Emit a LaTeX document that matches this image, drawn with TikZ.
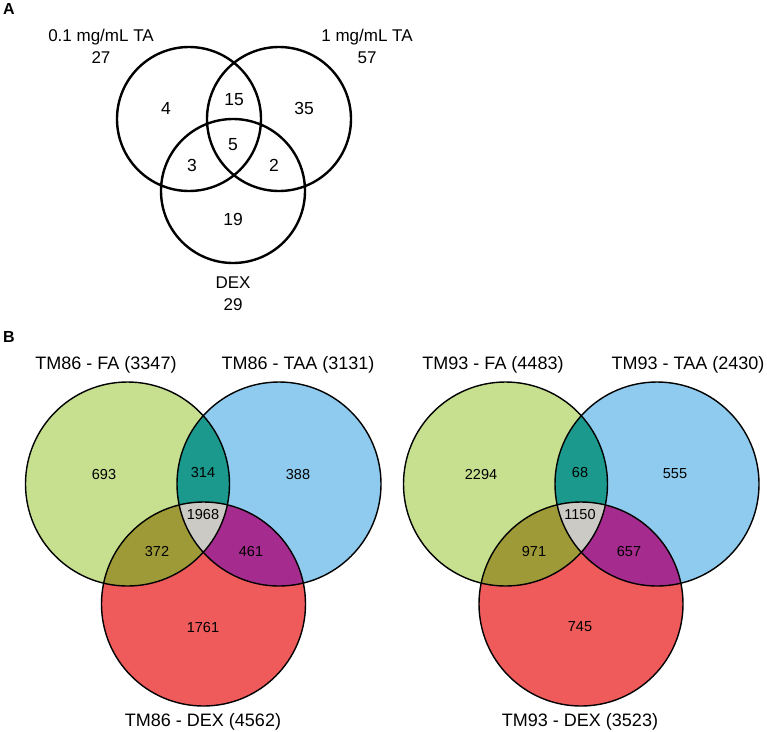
\documentclass[tikz,border=0pt]{standalone}
\usepackage{fontspec}
\setmainfont{Liberation Sans}
\usetikzlibrary{positioning}
\definecolor{vennfa}{HTML}{C6E08F}
\definecolor{venntaa}{HTML}{8FCBEE}
\definecolor{venndex}{HTML}{EF5B5B}
\definecolor{vennfataa}{HTML}{1B998C}
\definecolor{vennfadex}{HTML}{9E9A38}
\definecolor{venntaadex}{HTML}{A62B8E}
\definecolor{vennall}{HTML}{CCCAC5}

\begin{document}
\begin{tikzpicture}[
  x=1pt, y=-1pt,
  panel/.style={font=\fontsize{16}{18}\selectfont\bfseries},
  setlabel/.style={align=center, font=\fontsize{17}{22}\selectfont},
  biglabel/.style={font=\fontsize{18}{20}\selectfont},
  count/.style={font=\fontsize{17.5}{19}\selectfont},
  smallcount/.style={font=\fontsize{14.5}{16}\selectfont},
  ringa/.style={draw=black, line width=2.4pt},
  ringb/.style={draw=black, line width=1.4pt}
]
  \useasboundingbox (0,0) rectangle (767,731);
  \fill[white] (0,0) rectangle (767,731);

  % panel A
  \node[panel] (pa) at (9,9) {A};
  \coordinate (alo) at (189,119);
  \coordinate (ahi) at (279,119);
  \coordinate (adex) at (233,191);
  \draw[ringa] (alo) circle[radius=72];
  \draw[ringa] (ahi) circle[radius=72];
  \draw[ringa] (adex) circle[radius=72];
  \node[setlabel] (lablo) at (101,46) {0.1 mg/mL TA\\27};
  \node[setlabel] (labhi) at (367,46) {1 mg/mL TA\\57};
  \node[setlabel] (labdex) at (233,294) {DEX\\29};
  \node[count] (alo1) at (166,108) {4};
  \node[count] (ahi1) at (304,108) {35};
  \node[count] (alohi) at (234,100) {15};
  \node[count] (aall) at (233,145) {5};
  \node[count] (alodex) at (192,165) {3};
  \node[count] (ahidex) at (274,165) {2};
  \node[count] (adex1) at (233,219) {19};

  % panel B
  \node[panel] (pb) at (9,337) {B};

  % TM86
  \coordinate (fa1) at (127.5,484);
  \coordinate (taa1) at (279,484);
  \coordinate (dex1) at (203.5,604);
  \fill[vennfa] (fa1) circle[radius=102];
  \fill[venntaa] (taa1) circle[radius=102];
  \fill[venndex] (dex1) circle[radius=102];
  \begin{scope}
    \clip (fa1) circle[radius=102];
    \fill[vennfataa] (taa1) circle[radius=102];
    \fill[vennfadex] (dex1) circle[radius=102];
    \clip (taa1) circle[radius=102];
    \fill[vennall] (dex1) circle[radius=102];
  \end{scope}
  \begin{scope}
    \clip (taa1) circle[radius=102];
    \clip (dex1) circle[radius=102];
    \fill[venntaadex] (taa1) circle[radius=102];
    \fill[vennall] (fa1) circle[radius=102];
  \end{scope}
  \draw[ringb] (fa1) circle[radius=102];
  \draw[ringb] (taa1) circle[radius=102];
  \draw[ringb] (dex1) circle[radius=102];
  \node[biglabel] (labfa1) at (106,365) {TM86 - FA (3347)};
  \node[biglabel] (labtaa1) at (298,365) {TM86 - TAA (3131)};
  \node[biglabel] (labdex1) at (203,722) {TM86 - DEX (4562)};
  \node[smallcount] (nfa1) at (104,474) {693};
  \node[smallcount] (nfataa1) at (203,472) {314};
  \node[smallcount] (ntaa1) at (298,474) {388};
  \node[smallcount] (nall1) at (203,514) {1968};
  \node[smallcount] (nfadex1) at (157,551) {372};
  \node[smallcount] (ntaadex1) at (251,551) {461};
  \node[smallcount] (ndex1) at (203,627) {1761};

  % TM93
  \coordinate (fa2) at (505.5,484);
  \coordinate (taa2) at (657,484);
  \coordinate (dex2) at (581,604);
  \fill[vennfa] (fa2) circle[radius=102];
  \fill[venntaa] (taa2) circle[radius=102];
  \fill[venndex] (dex2) circle[radius=102];
  \begin{scope}
    \clip (fa2) circle[radius=102];
    \fill[vennfataa] (taa2) circle[radius=102];
    \fill[vennfadex] (dex2) circle[radius=102];
    \clip (taa2) circle[radius=102];
    \fill[vennall] (dex2) circle[radius=102];
  \end{scope}
  \begin{scope}
    \clip (taa2) circle[radius=102];
    \clip (dex2) circle[radius=102];
    \fill[venntaadex] (taa2) circle[radius=102];
    \fill[vennall] (fa2) circle[radius=102];
  \end{scope}
  \draw[ringb] (fa2) circle[radius=102];
  \draw[ringb] (taa2) circle[radius=102];
  \draw[ringb] (dex2) circle[radius=102];
  \node[biglabel] (labfa2) at (493,365) {TM93 - FA (4483)};
  \node[biglabel] (labtaa2) at (688,365) {TM93 - TAA (2430)};
  \node[biglabel] (labdex2) at (580,722) {TM93 - DEX (3523)};
  \node[smallcount] (nfa2) at (481,474) {2294};
  \node[smallcount] (nfataa2) at (580,472) {68};
  \node[smallcount] (ntaa2) at (675,474) {555};
  \node[smallcount] (nall2) at (580,514) {1150};
  \node[smallcount] (nfadex2) at (534,551) {971};
  \node[smallcount] (ntaadex2) at (629,551) {657};
  \node[smallcount] (ndex2) at (580,627) {745};
\end{tikzpicture}
\end{document}
